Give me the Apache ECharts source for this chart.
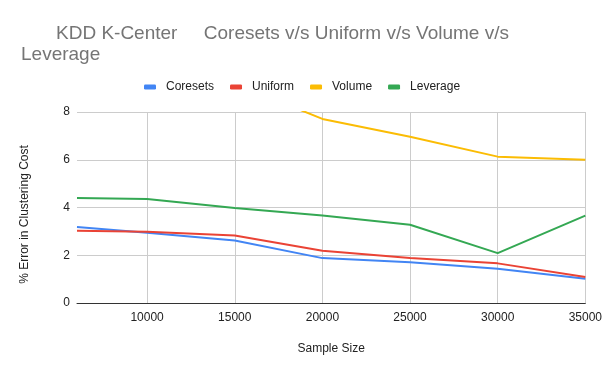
<!DOCTYPE html>
<html>
<head>
<meta charset="utf-8">
<script src="https://cdn.jsdelivr.net/npm/echarts@6/dist/echarts.min.js"></script>
<style>html,body{margin:0;padding:0;background:#fff}#c{width:605px;height:374px}</style>
</head>
<body>
<div id="c"></div>
<script>
const sampleSizes = [6000, 10000, 15000, 20000, 25000, 30000, 35000];
const coresets = [3.18, 2.94, 2.62, 1.88, 1.71, 1.43, 1.02];
const uniform  = [3.03, 2.98, 2.83, 2.19, 1.88, 1.66, 1.09];
const volume   = [null, null, 9.2, 7.71, 6.96, 6.13, 6.0];
const leverage = [4.40, 4.36, 3.98, 3.66, 3.28, 2.09, 3.66];
const xTicks = [10000, 15000, 20000, 25000, 30000, 35000];
const yTicks = [0, 2, 4, 6, 8];
const seriesNames = ['Coresets', 'Uniform', 'Volume', 'Leverage'];
const colors = ['#4285F4', '#EA4335', '#FBBC04', '#34A853'];
const values = [coresets, uniform, volume, leverage];

const chart = echarts.init(document.getElementById('c'), null, {renderer: 'canvas'});
const font = 'Arial, "Liberation Sans", sans-serif';
chart.setOption({
  animation: false,
  color: colors,
  title: [
    {text: 'KDD K-Center     Coresets v/s Uniform v/s Volume v/s', left: 51, top: 19,
     textStyle: {fontFamily: font, fontSize: 19, fontWeight: 'normal', color: '#757575'}},
    {text: 'Leverage', left: 16, top: 40,
     textStyle: {fontFamily: font, fontSize: 19, fontWeight: 'normal', color: '#757575'}}
  ],
  legend: {
    top: 76, left: 139,
    itemWidth: 12, itemHeight: 5, itemGap: 16,
    icon: 'roundRect',
    textStyle: {fontFamily: font, fontSize: 12, color: '#222', padding: [0, 0, 0, 5]},
    data: seriesNames
  },
  grid: {left: 77, right: 19, top: 112, bottom: 71},
  xAxis: {
    type: 'value', min: 6000, max: 35000,
    name: 'Sample Size', nameLocation: 'middle', nameGap: 40,
    nameTextStyle: {fontFamily: font, fontSize: 12, color: '#222'},
    axisLine: {show: true, onZero: false, lineStyle: {color: '#333', width: 1}},
    axisTick: {show: false, customValues: xTicks},
    axisLabel: {customValues: xTicks, formatter: v => String(v), fontFamily: font, fontSize: 12, color: '#222', margin: 9},
    splitLine: {show: true, lineStyle: {color: '#ccc'}}
  },
  yAxis: {
    type: 'value', min: 0, max: 8, interval: 2,
    name: '% Error in Clustering Cost', nameLocation: 'middle', nameGap: 46,
    nameTextStyle: {fontFamily: font, fontSize: 12, color: '#222', padding: [0, 14, 0, 0]},
    axisLine: {show: false}, axisTick: {show: false},
    axisLabel: {fontFamily: font, fontSize: 12, color: '#222', margin: 7},
    splitLine: {show: true, lineStyle: {color: '#ccc'}}
  },
  series: seriesNames.map((n, i) => ({
    name: n, type: 'line', showSymbol: false, symbol: 'none',
    lineStyle: {width: 2}, clip: true, connectNulls: false,
    data: sampleSizes.map((x, j) => [x, values[i][j]])
  }))
});
</script>
</body>
</html>
